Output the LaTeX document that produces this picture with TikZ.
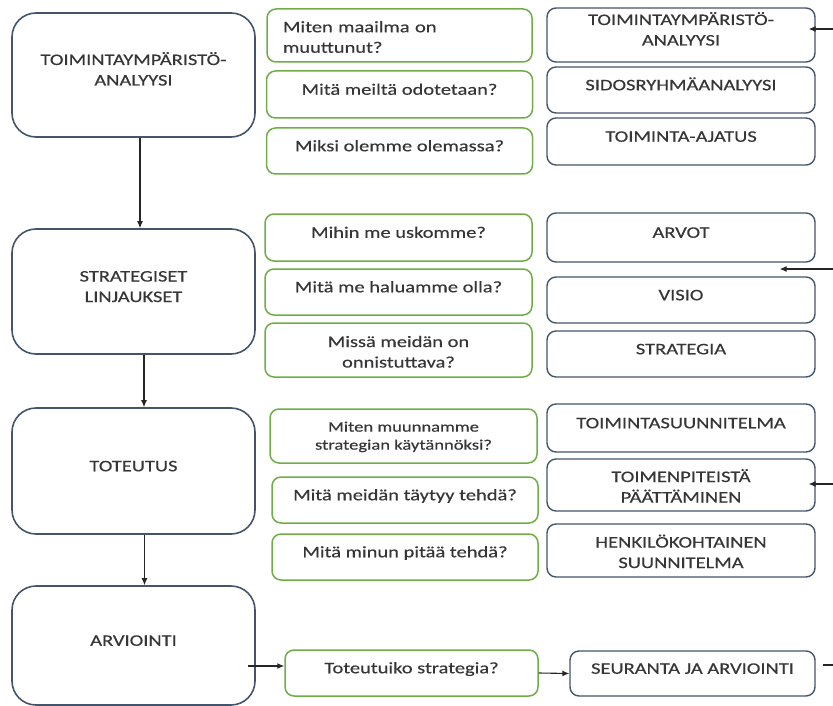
\documentclass[tikz,border=0pt]{standalone}
\usepackage{fontspec}
\setmainfont{Carlito}[FakeStretch=1.28, FakeBold=0.4]
\usetikzlibrary{arrows.meta}

\definecolor{slate}{HTML}{44546A}
\definecolor{leaf}{HTML}{70AD47}
\definecolor{ink}{HTML}{363636}

\begin{document}
\begin{tikzpicture}[x=1pt, y=-1pt,
  phase/.style={draw=slate, line width=1.6pt, rounded corners=24pt, minimum width=243pt,
    inner sep=0pt, align=center, text=ink, text height=10.5pt, text depth=10pt,
    font=\fontsize{16}{20.5}\selectfont},
  ask/.style={draw=leaf, line width=1.5pt, rounded corners=9pt, minimum width=266pt,
    minimum height=46pt, inner sep=0pt, align=center, text=ink, text height=10.5pt,
    text depth=10pt, font=\fontsize{16}{20.5}\selectfont},
  tool/.style={draw=slate, line width=1.4pt, rounded corners=9pt, minimum width=268pt,
    minimum height=46pt, inner sep=0pt, align=center, text=ink, text height=10.5pt,
    text depth=10pt, font=\fontsize{16}{20.5}\selectfont},
  twoup/.style={text height=31pt, text depth=10pt},
  twodown/.style={text height=35pt, text depth=0pt},
  flow/.style={draw=black!85, line width=1.1pt, -{Latex[length=7pt,width=6pt]}}]
\useasboundingbox (0,0) rectangle (833,706);

% Phases on the left
\node[phase, twoup, minimum height=124pt] (env) at (133.5,75) {TOIMINTAYMPÄRISTÖ-\\ANALYYSI};
\node[phase, twoup, minimum height=125pt] (lines) at (133.5,291.5) {STRATEGISET\\LINJAUKSET};
\node[phase, minimum height=126pt] (impl) at (133.5,471) {TOTEUTUS};
\node[phase, minimum height=119pt] (eval) at (133.5,645.5) {ARVIOINTI};

% Questions
\node[ask, minimum width=265pt, minimum height=53pt, align=left, text width=233pt, text depth=17pt] (qworld) at (399.5,35.5) {Miten maailma on\\muuttunut?};
\node[ask, minimum height=47pt] (qexpect) at (399.5,94.5) {Mitä meiltä odotetaan?};
\node[ask] (qwhy) at (399.5,151) {Miksi olemme olemassa?};
\node[ask, minimum width=267pt, minimum height=47pt] (qbelieve) at (398.5,237.5) {Mihin me uskomme?};
\node[ask, minimum width=267pt] (qwant) at (398.5,292) {Mitä me haluamme olla?};
\node[ask, twodown, minimum width=267pt, minimum height=54pt] (qsucceed) at (398.5,350) {Missä meidän on\\onnistuttava?};
\node[ask, minimum width=267pt, minimum height=54pt, text height=27.3pt, text depth=0pt,
  font=\fontsize{14.5}{18}\selectfont] (qturn) at (403.5,436) {Miten muunnamme\\strategian käytännöksi?};
\node[ask] (qmust) at (405,500) {Mitä meidän täytyy tehdä?};
\node[ask] (qmine) at (405,557) {Mitä minun pitää tehdä?};
\node[ask, minimum width=253pt] (qdone) at (411.5,673) {Toteutuiko strategia?};

% Tools on the right
\node[tool, twoup, minimum height=54pt] (tenv) at (681,35) {TOIMINTAYMPÄRISTÖ-\\ANALYYSI};
\node[tool] (tstake) at (681,90) {SIDOSRYHMÄANALYYSI};
\node[tool, minimum height=47pt] (tidea) at (681,141.5) {TOIMINTA-AJATUS};
\node[tool, minimum height=49pt] (tvalues) at (681,237.5) {ARVOT};
\node[tool] (tvision) at (681,300) {VISIO};
\node[tool] (tstrat) at (681,354) {STRATEGIA};
\node[tool, minimum height=48pt] (tplan) at (681,428) {TOIMINTASUUNNITELMA};
\node[tool, twodown, minimum height=52pt] (tdecide) at (681,485) {TOIMENPITEISTÄ\\PÄÄTTÄMINEN};
\node[tool, twodown, minimum height=53pt] (tpers) at (681,550.5) {HENKILÖKOHTAINEN\\SUUNNITELMA};
\node[tool, minimum width=245pt, minimum height=45pt] (tfollow) at (692.5,673.5) {SEURANTA JA ARVIOINTI};

% Flow down the phases
\draw[flow] ([xshift=6.5pt]env.south) -- ([xshift=6.5pt]lines.north);
\draw[flow] ([xshift=10.5pt]lines.south) -- ([xshift=10.5pt]impl.north);
\draw[flow] ([xshift=11pt]impl.south) -- ([xshift=11pt]eval.north);

% Evaluation row
\draw[flow] ([shift={(-8,20.5)}]eval.east) coordinate (evalout) -- (evalout -| qdone.west);
\draw[flow] (qdone.east) -- (tfollow.west);

% Arrows coming in from the right edge
\coordinate (edgeA) at (833,29);
\coordinate (edgeB) at (833,269);
\coordinate (edgeC) at (833,484);
\coordinate (edgeD) at (833,665);
\draw[flow] (edgeA) -- ([xshift=-7pt]tenv.east |- edgeA);
\draw[flow] (edgeB) -- ([xshift=-36pt]tvalues.east |- edgeB);
\draw[flow] (edgeC) -- ([xshift=-7pt]tdecide.east |- edgeC);
\draw[draw=black!85, line width=1.1pt] ([xshift=7pt]tfollow.east |- edgeD) -- (edgeD);

\end{tikzpicture}
\end{document}
